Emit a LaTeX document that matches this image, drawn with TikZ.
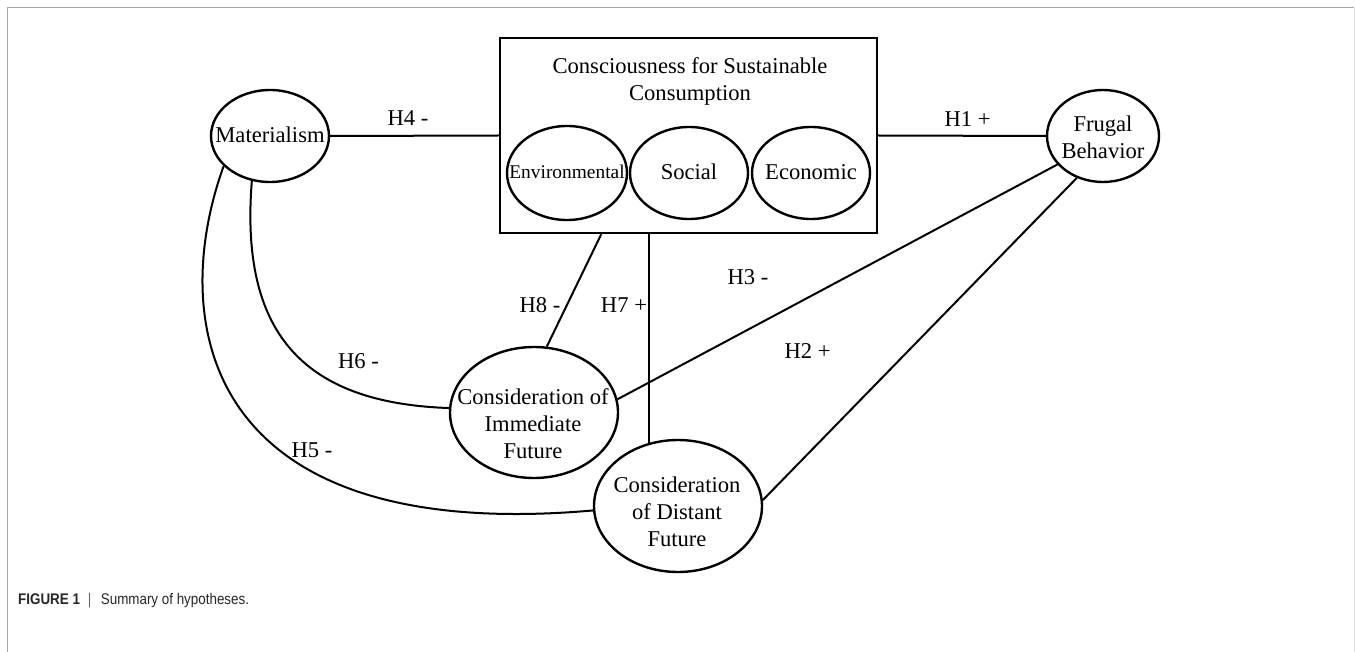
\documentclass[tikz,border=0pt]{standalone}
\usepackage{fontspec}
\usepackage{graphicx}
\setmainfont{Liberation Serif}
\newfontfamily\capfont{Liberation Sans}
\usetikzlibrary{shapes.geometric,calc}
\begin{document}
\begin{tikzpicture}[x=1pt,y=-1pt,
  lat/.style={ellipse,draw,line width=2.4pt,inner sep=0pt},
  conn/.style={line width=2pt},
  lbl/.style={inner sep=0pt,align=center,font=\fontsize{22.6}{27}\selectfont}]
\useasboundingbox (0,0) rectangle (1355,652);
% frame
\draw[gray!70, line width=1pt] (7,652) -- (7,8) -- (1354,8);
\draw[gray!25, line width=1pt] (1354,8) -- (1354,652);

% construct box
\node[draw,line width=2.4pt,minimum width=377pt,minimum height=195pt,inner sep=0pt] (box) at (688.5,135.5) {};
\node[lbl] (title) at (690,81) {Consciousness for Sustainable\\Consumption};
\node[lat,minimum width=120pt,minimum height=94pt] (env) at (567,173) {};
\node[lbl,font=\fontsize{19.4}{23}\selectfont] (envt) at (567,172) {Environmental};
\node[lat,minimum width=118pt,minimum height=92pt] (soc) at (689,173) {};
\node[lbl] (soct) at (689,172) {Social};
\node[lat,minimum width=118pt,minimum height=92pt] (eco) at (811,173) {};
\node[lbl] (ecot) at (811,172) {Economic};

% latent variables
\node[lat,minimum width=118pt,minimum height=92pt] (mat) at (270,136) {};
\node[lbl] (matt) at (270,135) {Materialism};
\node[lat,minimum width=112pt,minimum height=92pt] (fru) at (1103,136) {};
\node[lbl] (frut) at (1103,137) {Frugal\\Behavior};
\node[lat,minimum width=168pt,minimum height=131pt] (imm) at (534,412.5) {};
\node[lbl] (immt) at (533,424) {Consideration of\\Immediate\\Future};
\node[lat,minimum width=168pt,minimum height=132pt] (dis) at (678,506) {};
\node[lbl] (dist) at (677,512) {Consideration\\of Distant\\Future};

% connectors
\coordinate (b8) at ($(box.south west)!0.27!(box.south east)$);
\draw[conn] (mat.east) -- (box.west);
\draw[conn] (box.east) -- (fru.west);
\draw[conn] (b8) -- (imm.79);
\draw[conn] (dis.115) -- (dis.115 |- box.south);
\draw[conn] (fru.212) -- (imm.9);
\draw[conn] (fru.238) -- (dis.4);
\draw[conn] (mat.-112) .. controls (240,330) and (300,403) .. (imm.177);
\draw[conn] (mat.-147) .. controls (168,320) and (200,545) .. (dis.183);

% labels
\node[lbl] (l4) at (408,118) {H4 -};
\node[lbl] (l1) at (967.5,119) {H1 +};
\node[lbl] (l3) at (748,277) {H3 -};
\node[lbl] (l2) at (807.5,351) {H2 +};
\node[lbl] (l7) at (624,305) {H7 +};
\node[lbl] (l8) at (540,305) {H8 -};
\node[lbl] (l6) at (358.5,361) {H6 -};
\node[lbl] (l5) at (312,450) {H5 -};

% caption
\node[anchor=west,inner sep=0pt] (cap) at (18,601) {\scalebox{0.87}[1]{\capfont\fontsize{15.4}{18}\selectfont\color{black!85}\textbf{FIGURE 1}\hspace{9pt}{\color{black!60}|}\hspace{11pt}Summary of hypotheses.}};
\end{tikzpicture}
\end{document}
